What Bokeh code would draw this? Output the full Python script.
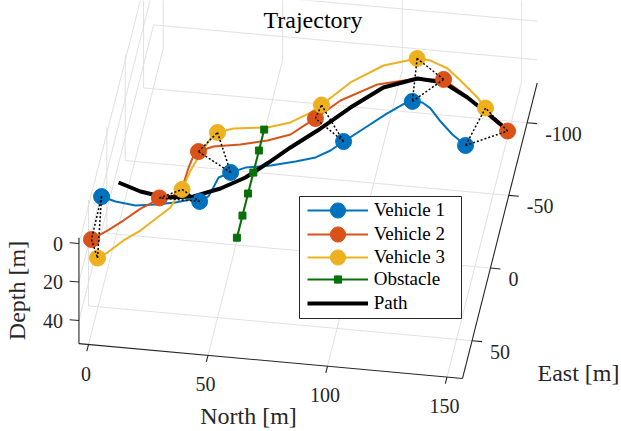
import numpy as np
from bokeh.plotting import figure
from bokeh.models import Range1d, Label, Legend, LegendItem, BoxAnnotation
from bokeh.core.properties import value
from bokeh.embed import file_html
from bokeh.resources import INLINE

# ---------------- data (North [m], East [m]); all tracks lie on the Depth = 0 plane -------------
path_north = [5.9, 15.8, 26.6, 38.0, 48.2, 57.3, 65.2, 72.6, 81.9, 93.0, 104.4, 117.4, 128.5, 139.8, 149.7, 158.6]
path_east = [32.5, 37.2, 39.7, 37.3, 30.3, 21.4, 9.9, -1.6, -14.6, -32.1, -47.6, -55.7, -54.6, -46.0, -36.5, -27.5]

v1_north = [0.4, 6.6, 15.2, 23.3, 31.2, 37.1, 41.0, 44.1, 45.2, 46.3, 50.7, 56.3, 66.3, 76.1, 83.9, 89.3,
            93.7, 101.2, 108.1, 114.0, 117.7, 121.9, 125.8, 131.3, 137.5, 144.0]
v1_east = [43.0, 45.5, 46.9, 45.0, 42.5, 39.5, 40.3, 36.4, 30.1, 23.0, 18.9, 14.7, 11.8, 7.6, 3.6, -2.0,
           -8.8, -19.6, -29.6, -37.3, -40.0, -39.9, -36.4, -28.2, -20.2, -13.6]
v2_north = [0.7, 6.3, 11.8, 17.6, 21.1, 24.2, 29.7, 32.5, 33.0, 33.8, 35.4, 41.0, 51.8, 62.5, 71.3, 76.4,
            79.8, 88.2, 101.7, 114.7, 128.2, 139.7, 147.7, 154.8, 159.7]
v2_east = [72.5, 65.5, 57.8, 48.7, 44.7, 40.4, 37.9, 31.3, 18.1, 9.8, 6.8, 2.5, -0.5, -4.9, -10.3, -17.9,
           -22.6, -36.2, -49.3, -54.6, -56.7, -46.7, -38.2, -30.3, -25.9]
v3_north = [5.1, 8.6, 13.9, 19.8, 25.4, 29.7, 31.3, 32.6, 34.1, 36.4, 39.0, 41.2, 47.3, 61.1, 70.0, 77.2,
            80.9, 90.4, 102.2, 111.5, 115.2, 120.9, 128.7, 135.2, 143.9, 148.3]
v3_east = [84.6, 80.3, 71.2, 63.5, 53.7, 46.1, 37.7, 33.3, 20.0, 8.0, -2.7, -7.2, -10.9, -13.6, -18.4, -26.3,
           -32.0, -49.0, -62.4, -67.2, -69.2, -68.6, -64.3, -57.0, -46.6, -40.0]

# vehicle positions at the sampled instants (markers)
v1_mark_north = [0.4, 41.0, 50.7, 93.7, 117.7, 144.0]
v1_mark_east = [43.0, 40.3, 18.9, -8.8, -40.0, -13.6]
v2_mark_north = [0.7, 24.2, 35.4, 79.8, 128.2, 159.7]
v2_mark_east = [72.5, 40.4, 6.8, -22.6, -56.7, -25.9]
v3_mark_north = [5.1, 32.6, 41.2, 80.9, 115.2, 148.3]
v3_mark_east = [84.6, 33.3, -7.2, -32.0, -69.2, -40.0]

obstacle_north = [60.0, 60.0, 60.0, 60.0, 60.0, 60.0]
obstacle_east = [62.4, 47.2, 32.0, 17.6, 2.4, -12.0]

north_ticks = [0, 50, 100, 150]
east_ticks = [-100, -50, 0, 50]
depth_ticks = [0, 20, 40]
north_lim = (-4.0, 156.5)
east_lim = (-127.5, 76.0)
depth_lim = (-3.0, 52.0)
track_depth = 0.0

# ---------------- view (orthographic projection to page pixels) ----------------
O_X, O_Y = 115.9, 133.5
U_N = (2.39, 0.217)
U_E = (-0.367, 1.453)
U_D = (0.0, 1.925)


def proj(n, e, d):
    n, e, d = np.broadcast_arrays(np.asarray(n, float), np.asarray(e, float), np.asarray(d, float))
    x = O_X + U_N[0] * n + U_E[0] * e + U_D[0] * d
    y = O_Y + U_N[1] * n + U_E[1] * e + U_D[1] * d
    return x.tolist(), y.tolist()


BLUE, RED, YELLOW, GREEN = "#0072BD", "#D95319", "#EDB120", "#087008"
AXC = "#262626"
GRIDC = "#dedede"
FONT = "Liberation Serif"
W, H = 621, 431

p = figure(width=W, height=H, x_range=Range1d(0, W), y_range=Range1d(H, 0),
           output_backend="svg", toolbar_location=None, min_border=0,
           x_axis_location=None, y_axis_location=None)
p.grid.visible = False
p.outline_line_color = None

Nmin, Nmax = north_lim
Emin, Emax = east_lim
Dmin, Dmax = depth_lim

# ---- back-plane grid lines ----
gx, gy = [], []
def seg(a, b):
    xs, ys = proj([a[0], b[0]], [a[1], b[1]], [a[2], b[2]])
    gx.append(xs); gy.append(ys)

for n in north_ticks:
    seg((n, Emin, Dmax), (n, Emax, Dmax))      # floor
    seg((n, Emin, Dmin), (n, Emin, Dmax))      # far wall
for e in east_ticks:
    seg((Nmin, e, Dmax), (Nmax, e, Dmax))      # floor
    seg((Nmin, e, Dmin), (Nmin, e, Dmax))      # left wall
for d in depth_ticks:
    seg((Nmin, Emin, d), (Nmax, Emin, d))      # far wall
    seg((Nmin, Emin, d), (Nmin, Emax, d))      # left wall
p.multi_line(gx, gy, line_color=GRIDC, line_width=0.9)

# ---- axis lines and ticks ----
ax, ay = [], []
def aseg(a, b):
    xs, ys = proj([a[0], b[0]], [a[1], b[1]], [a[2], b[2]])
    ax.append(xs); ay.append(ys)

aseg((Nmin, Emax, Dmax), (Nmax, Emax, Dmax))
aseg((Nmax, Emin, Dmax), (Nmax, Emax, Dmax))
aseg((Nmin, Emax, Dmin), (Nmin, Emax, Dmax))
for n in north_ticks:
    aseg((n, Emax, Dmax), (n, Emax + 4.5, Dmax))
for e in east_ticks:
    aseg((Nmax, e, Dmax), (Nmax + 4.2, e, Dmax))
for d in depth_ticks:
    aseg((Nmin, Emax, d), (Nmin - 3.9, Emax, d))
p.multi_line(ax, ay, line_color=AXC, line_width=1.1)

# ---- tick labels ----
tx, ty = proj(north_ticks, Emax, Dmax)
p.text([x - 2.5 for x in tx], [y + 29 for y in ty], text=[str(t) for t in north_ticks],
       text_font=value(FONT), text_font_size="20px", text_color=AXC,
       text_align="center", text_baseline="middle")
tx, ty = proj(Nmax, east_ticks, Dmax)
p.text([x + 18 for x in tx], [y + 11 for y in ty], text=[str(t) for t in east_ticks],
       text_font=value(FONT), text_font_size="20px", text_color=AXC,
       text_align="left", text_baseline="middle")
tx, ty = proj(Nmin, Emax, depth_ticks)
p.text([x - 16 for x in tx], ty, text=[str(t) for t in depth_ticks],
       text_font=value(FONT), text_font_size="20px", text_color=AXC,
       text_align="right", text_baseline="middle")

# ---- data ----
x1, y1 = proj(v1_north, v1_east, track_depth)
x2, y2 = proj(v2_north, v2_east, track_depth)
x3, y3 = proj(v3_north, v3_east, track_depth)
l1 = p.line(x1, y1, line_color=BLUE, line_width=2)
l2 = p.line(x2, y2, line_color=RED, line_width=2)
l3 = p.line(x3, y3, line_color=YELLOW, line_width=2)

px_, py_ = proj(path_north, path_east, track_depth)
lp = p.line(px_, py_, line_color="black", line_width=4)

ox, oy = proj(obstacle_north, obstacle_east, track_depth)
lo = p.line(ox, oy, line_color=GREEN, line_width=2)
mo = p.scatter(ox, oy, marker="square", size=7, fill_color=GREEN, line_color=GREEN)

mx1, my1 = proj(v1_mark_north, v1_mark_east, track_depth)
mx2, my2 = proj(v2_mark_north, v2_mark_east, track_depth)
mx3, my3 = proj(v3_mark_north, v3_mark_east, track_depth)
m1 = p.scatter(mx1, my1, marker="circle", size=16, fill_color=BLUE, line_color=BLUE)
m2 = p.scatter(mx2, my2, marker="circle", size=16, fill_color=RED, line_color=RED)
m3 = p.scatter(mx3, my3, marker="circle", size=16, fill_color=YELLOW, line_color=YELLOW)

# formation links at each sampled instant
fx, fy = [], []
for i in range(len(mx1)):
    pts = [(mx1[i], my1[i]), (mx2[i], my2[i]), (mx3[i], my3[i])]
    for a, b in ((0, 1), (1, 2), (2, 0)):
        fx.append([pts[a][0], pts[b][0]])
        fy.append([pts[a][1], pts[b][1]])
p.multi_line(fx, fy, line_color="black", line_width=1.5, line_dash="2 2")

# ---- legend (box + one row per entry so each sample keeps its own marker size) ----
p.add_layout(BoxAnnotation(left=299, right=461, top=196, bottom=318, fill_color="white",
                           fill_alpha=1.0, line_color=AXC, line_width=1, line_alpha=1.0))
legend_rows = [("Vehicle 1", [l1, m1], 37.5), ("Vehicle 2", [l2, m2], 37.5),
               ("Vehicle 3", [l3, m3], 37.5), ("Obstacle", [lo, mo], 17.5), ("Path", [lp], 20.0)]
for i, (label, rends, gh) in enumerate(legend_rows):
    cy = 210.7 + 23.4 * i
    lg = Legend(items=[LegendItem(label=label, renderers=rends)],
                location=(306.7, H - (cy + gh / 2)))
    lg.margin = 0
    lg.padding = 0
    lg.spacing = 0
    lg.glyph_width = 61
    lg.glyph_height = int(round(gh))
    lg.label_height = 5
    lg.label_standoff = 6
    lg.label_text_font = FONT
    lg.label_text_font_size = "19px"
    lg.label_text_line_height = 0.85
    lg.label_text_color = "black"
    lg.border_line_color = None
    lg.background_fill_alpha = 0.0
    p.add_layout(lg)

# ---- title and axis labels ----
p.add_layout(Label(x=312.5, y=19, text="Trajectory", text_font=FONT, text_font_size="24px",
                   text_color="black", text_align="center", text_baseline="middle"))
p.add_layout(Label(x=248, y=415, text="North [m]", text_font=FONT, text_font_size="24px",
                   text_color=AXC, text_align="center", text_baseline="middle"))
p.add_layout(Label(x=578, y=372, text="East [m]", text_font=FONT, text_font_size="24px",
                   text_color=AXC, text_align="center", text_baseline="middle"))
p.add_layout(Label(x=16.5, y=290, text="Depth [m]", text_font=FONT, text_font_size="24px",
                   text_color=AXC, text_align="center", text_baseline="middle", angle=np.pi / 2))

open("out.html", "w").write(file_html(p, INLINE))
